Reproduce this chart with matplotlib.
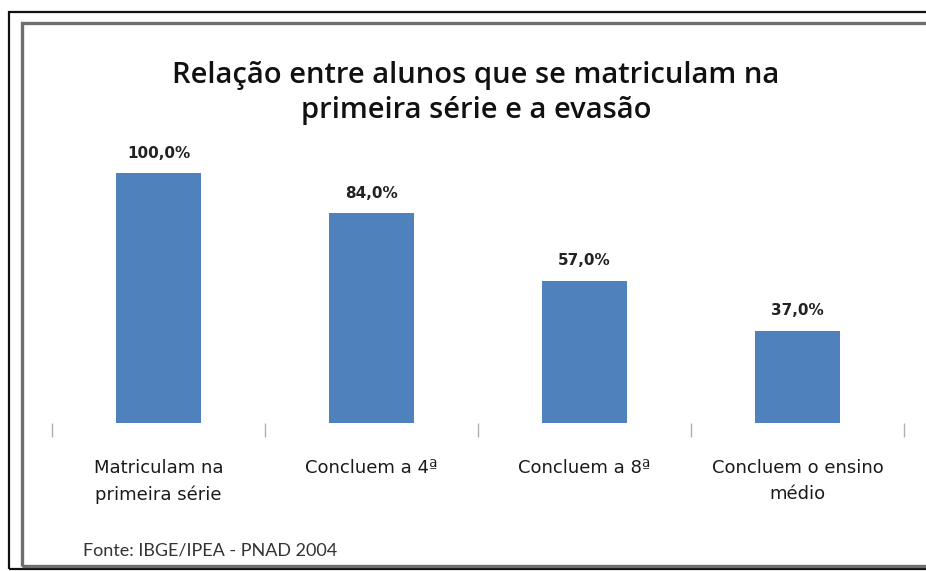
import matplotlib
matplotlib.use("Agg")
import matplotlib.pyplot as plt
from matplotlib.patches import Rectangle

# values
categorias = ["Matriculam na\nprimeira série", "Concluem a 4ª",
              "Concluem a 8ª", "Concluem o ensino\nmédio"]
percentuais = [100.0, 84.0, 57.0, 37.0]
rotulos = ["100,0%", "84,0%", "57,0%", "37,0%"]

titulo = "Relação entre alunos que se matriculam na\nprimeira série e a evasão"
fonte = "Fonte: IBGE/IPEA - PNAD 2004"

W, H = 926, 571
fig = plt.figure(figsize=(W / 100, H / 100), dpi=100)
fig.patch.set_facecolor("white")

# double frame around the chart (cut off on the right)
fig.patches.append(Rectangle((9 / W, 1 - 569 / H), 1.0, (569 - 12) / H,
                             transform=fig.transFigure, fill=False,
                             edgecolor="#111111", lw=1.6))
fig.patches.append(Rectangle((22 / W, 1 - 566 / H), 1.0, (566 - 23) / H,
                             transform=fig.transFigure, fill=False,
                             edgecolor="#6e6e6e", lw=2.4))

ax = fig.add_axes([52 / W, 1 - 423 / H, (904 - 52) / W, (423 - 173) / H])
x = range(len(categorias))
ax.bar(x, percentuais, width=0.4, color="#4F81BD")
ax.set_xlim(-0.5, len(categorias) - 0.5)
ax.set_ylim(0, 100)

for xi, v, r in zip(x, percentuais, rotulos):
    ax.text(xi, v + 5, r, ha="center", va="bottom", fontsize=11,
            fontweight="bold", family=["DejaVu Sans"],
            color="#222222", clip_on=False)

for s in ax.spines.values():
    s.set_visible(False)
ax.set_yticks([])
ax.set_xticks(list(x))
ax.set_xticklabels(categorias, fontsize=13, linespacing=1.55,
                   family=["DejaVu Sans"], color="#1a1a1a")
ax.tick_params(axis="x", which="major", length=0, pad=26)
ax.set_xticks([i - 0.5 for i in range(len(categorias) + 1)], minor=True)
ax.tick_params(axis="x", which="minor", length=10, width=1, color="#b0b0b0")

fig.text(476 / W, 1 - 93 / H, titulo, ha="center", va="center",
         fontsize=21, fontweight="semibold", family=["Open Sans", "DejaVu Sans"],
         linespacing=1.27, color="#111111")
fig.text(83 / W, 1 - 551 / H, fonte, ha="left", va="center",
         fontsize=13, family=["Lato", "DejaVu Sans"], color="#333333")

fig.savefig("out.png", dpi=100)
